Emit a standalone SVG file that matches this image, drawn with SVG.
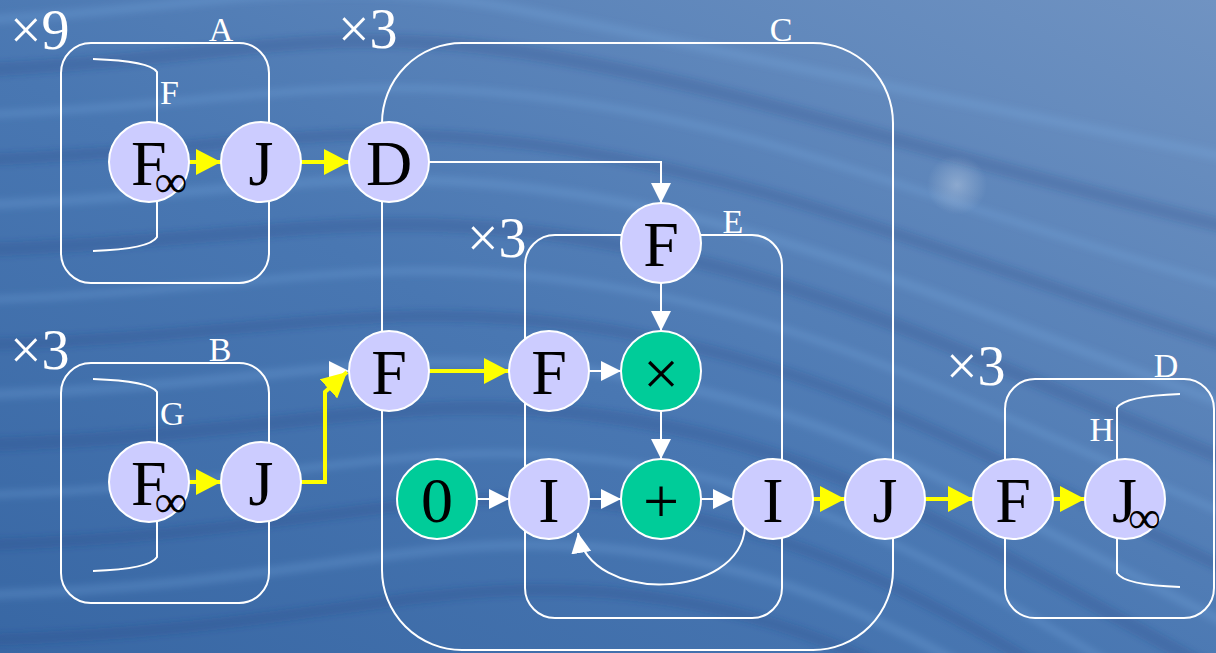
<svg xmlns="http://www.w3.org/2000/svg" width="1216" height="653" viewBox="0 0 1216 653">
  <defs>
    <linearGradient id="bg" x1="0" y1="1" x2="1" y2="0">
      <stop offset="0" stop-color="#3867a4"/>
      <stop offset="0.45" stop-color="#4977b2"/>
      <stop offset="1" stop-color="#7093c2"/>
    </linearGradient>
    <radialGradient id="glow" cx="957" cy="185" r="30" gradientUnits="userSpaceOnUse">
      <stop offset="0" stop-color="#dfe8f4" stop-opacity="0.35"/>
      <stop offset="1" stop-color="#dfe8f4" stop-opacity="0"/>
    </radialGradient>
    <filter id="soft" x="-5%" y="-5%" width="110%" height="110%">
      <feGaussianBlur stdDeviation="3"/>
    </filter>
    <marker id="ay" markerUnits="userSpaceOnUse" markerWidth="26" markerHeight="26" refX="25" refY="13" orient="auto">
      <path d="M0,0 L25,13 L0,26 z" fill="#ffff00"/>
    </marker>
    <marker id="aw" markerUnits="userSpaceOnUse" markerWidth="21" markerHeight="21" refX="20" refY="10" orient="auto">
      <path d="M0,0 L20,10 L0,20 z" fill="#ffffff"/>
    </marker>
    <style>
      .box { fill: none; stroke: #ffffff; stroke-width: 2; }
      .lbl { font-family: "Liberation Serif", "Times New Roman", serif; font-size: 34px; fill: #ffffff; }
      .mult { font-family: "Liberation Serif", "Times New Roman", serif; font-size: 56px; fill: #ffffff; }
      .n { fill: #ccccff; stroke: #ffffff; stroke-width: 2; }
      .op { fill: #00cc99; stroke: #ffffff; stroke-width: 2; }
      .t { font-family: "Liberation Serif", "Times New Roman", serif; font-size: 64px; fill: #000000; text-anchor: middle; }
      .ts { font-family: "Liberation Serif", "Times New Roman", serif; font-size: 64px; fill: #000000; }
      .inf { font-size: 46px; }
      .y { fill: none; stroke: #ffff00; stroke-width: 4; marker-end: url(#ay); }
      .w { fill: none; stroke: #ffffff; stroke-width: 2; marker-end: url(#aw); }
      .wave-l { fill: none; stroke: #7fb0e6; stroke-opacity: 0.22; }
      .wave-d { fill: none; stroke: #20457e; stroke-opacity: 0.22; }
    </style>
  </defs>

  <!-- backdrop -->
  <g id="background">
    <rect x="0" y="0" width="1216" height="653" fill="url(#bg)"/>
    <g filter="url(#soft)">
      <path class="wave-l" stroke-width="10" d="M-20,20 C200,10 320,-30 520,10 S900,90 1240,160"/>
      <path class="wave-d" stroke-width="14" d="M-20,70 C220,60 330,20 540,55 S910,150 1240,230"/>
      <path class="wave-l" stroke-width="8" d="M-20,115 C230,105 340,70 560,100 S920,200 1240,290"/>
      <path class="wave-d" stroke-width="12" d="M-20,160 C240,150 350,115 570,150 S930,250 1240,350"/>
      <path class="wave-l" stroke-width="10" d="M-20,205 C250,195 360,160 580,195 S940,300 1240,410"/>
      <path class="wave-d" stroke-width="14" d="M-20,250 C260,240 370,205 590,240 S950,350 1240,465"/>
      <path class="wave-l" stroke-width="8" d="M-20,300 C270,290 380,250 600,285 S960,400 1240,520"/>
      <path class="wave-d" stroke-width="12" d="M-20,345 C280,335 390,295 610,330 S970,450 1240,575"/>
      <path class="wave-l" stroke-width="10" d="M-20,395 C290,385 400,340 620,375 S980,500 1240,630"/>
      <path class="wave-d" stroke-width="14" d="M-20,445 C300,435 410,385 630,420 S990,550 1240,685"/>
      <path class="wave-l" stroke-width="8" d="M-20,495 C310,485 420,430 640,465 S1000,600 1240,740"/>
      <path class="wave-d" stroke-width="12" d="M-20,545 C320,535 430,475 650,510 S1010,650 1240,790"/>
      <path class="wave-l" stroke-width="10" d="M-20,595 C330,585 440,520 660,555 S1020,700 1240,840"/>
      <path class="wave-d" stroke-width="12" d="M-20,640 C340,630 450,565 670,600 S1030,750 1240,890"/>
    </g>
    <circle cx="957" cy="185" r="30" fill="url(#glow)"/>
  </g>

  <!-- cluster outlines -->
  <g id="clusters">
    <g id="cluster-A">
      <rect class="box" x="61" y="43" width="208" height="240" rx="30"/>
      <path class="box" d="M93,59 Q150,61 157,72 V237 Q150,249 93,251"/>
      <text class="lbl" x="221" y="41" text-anchor="middle">A</text>
      <text class="lbl" x="160" y="104">F</text>
      <text class="mult" x="10" y="49">×9</text>
    </g>
    <g id="cluster-B">
      <rect class="box" x="61" y="363" width="208" height="240" rx="30"/>
      <path class="box" d="M93,379 Q150,381 157,392 V557 Q150,569 93,571"/>
      <text class="lbl" x="220" y="361" text-anchor="middle">B</text>
      <text class="lbl" x="160" y="425">G</text>
      <text class="mult" x="10" y="369">×3</text>
    </g>
    <g id="cluster-C">
      <rect class="box" x="382" y="43" width="511" height="607" rx="80"/>
      <text class="lbl" x="781" y="41" text-anchor="middle">C</text>
      <text class="mult" x="338" y="48">×3</text>
    </g>
    <g id="cluster-E">
      <rect class="box" x="525" y="235" width="257" height="383" rx="30"/>
      <text class="lbl" x="733" y="233" text-anchor="middle">E</text>
      <text class="mult" x="467" y="257">×3</text>
    </g>
    <g id="cluster-D">
      <rect class="box" x="1005" y="379" width="209" height="239" rx="30"/>
      <path class="box" d="M1180,394 Q1124,396 1117,408 V573 Q1124,585 1180,587"/>
      <text class="lbl" x="1166" y="377" text-anchor="middle">D</text>
      <text class="lbl" x="1114" y="441" text-anchor="end">H</text>
      <text class="mult" x="946" y="385">×3</text>
    </g>
  </g>

  <!-- edges -->
  <g id="connectors">
    <path class="y" d="M189,162 H221"/>
    <path class="y" d="M301,162 H349"/>
    <path class="y" d="M189,482 H221"/>
    <path d="M329,361 L349,371 L329,381 z" fill="#ffffff"/>
    <path class="y" d="M301,482 H325 V392 L347,372"/>
    <path class="w" d="M429,162 H661 V203"/>
    <path class="y" d="M429,371 H509"/>
    <path class="w" d="M589,371 H621"/>
    <path class="w" d="M661,283 V331"/>
    <path class="w" d="M661,411 V459"/>
    <path class="w" d="M477,499 H509"/>
    <path class="w" d="M589,499 H621"/>
    <path class="w" d="M701,499 H733"/>
    <path class="w" stroke-width="3" d="M745,527 C740,600 590,605 578,533"/>
    <path class="y" d="M813,499 H845"/>
    <path class="y" d="M925,499 H973"/>
    <path class="y" d="M1053,499 H1085"/>
  </g>

  <!-- nodes -->
  <g id="nodes">
    <g id="a-f"><circle class="n" cx="149" cy="162" r="40"/><text class="ts" x="131" y="185">F<tspan class="inf" dx="-12" dy="12">∞</tspan></text></g>
    <g id="a-j"><circle class="n" cx="261" cy="162" r="40"/><text class="t" x="261" y="185">J</text></g>
    <g id="c-d"><circle class="n" cx="389" cy="162" r="40"/><text class="t" x="389" y="185">D</text></g>
    <g id="b-f"><circle class="n" cx="149" cy="482" r="40"/><text class="ts" x="131" y="505">F<tspan class="inf" dx="-12" dy="12">∞</tspan></text></g>
    <g id="b-j"><circle class="n" cx="261" cy="482" r="40"/><text class="t" x="261" y="505">J</text></g>
    <g id="c-f"><circle class="n" cx="389" cy="371" r="40"/><text class="t" x="389" y="394">F</text></g>
    <g id="e-f-top"><circle class="n" cx="661" cy="243" r="40"/><text class="t" x="661" y="266">F</text></g>
    <g id="e-f-in"><circle class="n" cx="549" cy="371" r="40"/><text class="t" x="549" y="394">F</text></g>
    <g id="e-mul"><circle class="op" cx="661" cy="371" r="40"/><text class="t" x="661" y="395">×</text></g>
    <g id="c-zero"><circle class="op" cx="437" cy="499" r="40"/><text class="t" x="437" y="522">0</text></g>
    <g id="e-i-in"><circle class="n" cx="549" cy="499" r="40"/><text class="t" x="549" y="522">I</text></g>
    <g id="e-add"><circle class="op" cx="661" cy="499" r="40"/><text class="t" x="661" y="523">+</text></g>
    <g id="e-i-out"><circle class="n" cx="773" cy="499" r="40"/><text class="t" x="773" y="522">I</text></g>
    <g id="c-j"><circle class="n" cx="885" cy="499" r="40"/><text class="t" x="885" y="522">J</text></g>
    <g id="d-f"><circle class="n" cx="1013" cy="499" r="40"/><text class="t" x="1013" y="522">F</text></g>
    <g id="d-j"><circle class="n" cx="1125" cy="499" r="40"/><text class="ts" x="1112" y="522">J<tspan class="inf" dx="-9" dy="11">∞</tspan></text></g>
  </g>
</svg>
